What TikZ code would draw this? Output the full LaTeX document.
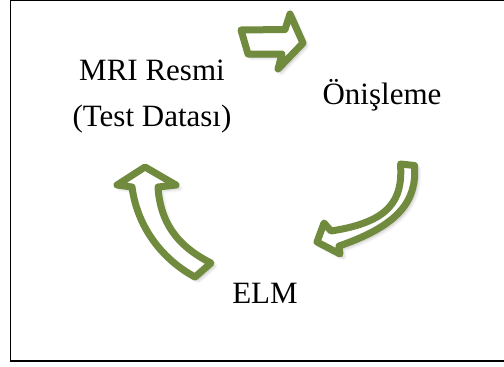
\documentclass[tikz,border=0pt]{standalone}
\usepackage{fontspec}
\setmainfont{Liberation Serif}
\usetikzlibrary{shadows.blur}
\definecolor{arrowgreen}{HTML}{718B3E}
\begin{document}
\begin{tikzpicture}[x=1pt,y=-1pt,
  lbl/.style={font=\fontsize{31}{46}\selectfont, inner sep=0pt, text=black},
  blockarrow/.style={draw=arrowgreen, line width=7pt, fill=white, line join=round,
     blur shadow={shadow xshift=3pt, shadow yshift=-3pt, shadow opacity=30, shadow blur steps=8, shadow blur radius=4pt}}]
\useasboundingbox (0,0) rectangle (504,367);
\begin{scope}
\clip (0,0) rectangle (504,367);
\draw[line width=1.3pt] (10.5,0.3) rectangle (520,361);
\end{scope}
% texts
\node[lbl, align=center] (mri) at (152,96.5) {MRI Resmi\\(Test Datası)};
\node[lbl, anchor=base] (pre) at (382,104) {Önişleme};
\node[lbl, anchor=base] (elm) at (265,303) {ELM};
% arrow MRI -> preprocessing
\path[blockarrow] (241,30) -- (285,29.5) -- (290,14) -- (303,43) -- (278,69) -- (282,54) -- (248,54) -- cycle;
% arrow preprocessing -> ELM
\path[blockarrow] (400.5,164) -- (414.5,165.5)
   .. controls (417,200) and (400,225) .. (339,246)
   -- (340,254) -- (317,242) -- (324,223) -- (331,231)
   .. controls (390,222) and (403,200) .. (400.5,164) -- cycle;
% arrow ELM -> MRI
\path[blockarrow] (132,187) -- (117,185) -- (145,167) -- (176,185) -- (158,187)
   .. controls (160,220) and (175,245) .. (211,263)
   -- (195,277)
   .. controls (160,258) and (137,225) .. (132,187) -- cycle;
\end{tikzpicture}
\end{document}
